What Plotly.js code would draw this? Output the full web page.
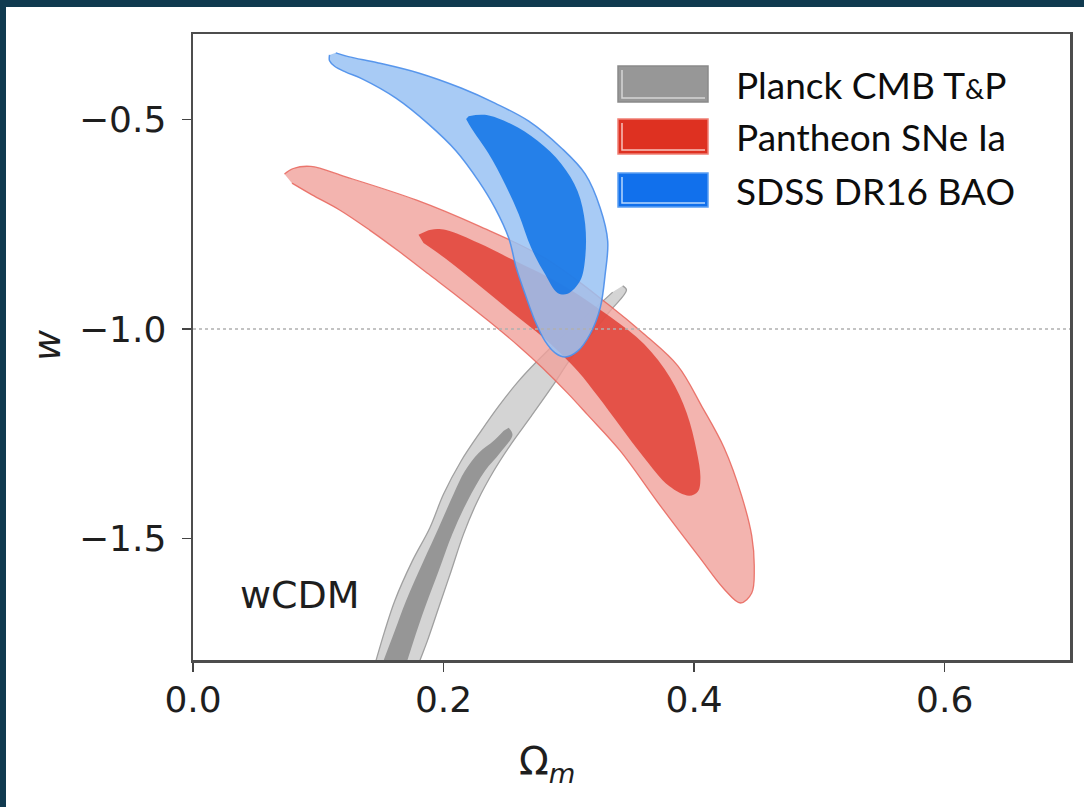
<!DOCTYPE html>
<html>
<head>
<meta charset="utf-8">
<script src="https://cdn.plot.ly/plotly-3.0.1.min.js"></script>
<style>
  html, body { margin: 0; padding: 0; }
  body { width: 1084px; height: 807px; background: #103a4f; position: relative; overflow: hidden; }
  #chart { position: absolute; left: 6px; top: 7px; width: 1078px; height: 800px; background: #fff; }
</style>
</head>
<body>
<div id="chart"></div>
<script>
// Marginalised 68% / 95% confidence regions in the (Omega_m, w) plane, wCDM model.

// Planck CMB T&P
const planck95_om = [0.343,0.346,0.333,0.318,0.302,0.287,0.270,0.254,0.240,0.227,0.216,0.206,0.196,0.187,0.181,0.169,
                     0.137,0.146,0.153,0.161,0.175,0.189,0.200,0.214,0.230,0.244,0.260,0.275,0.297,0.321,0.335];
const planck95_w  = [-0.897,-0.907,-0.957,-1.012,-1.069,-1.136,-1.208,-1.274,-1.339,-1.411,-1.489,-1.578,-1.666,-1.745,-1.792,-1.888,
                     -1.888,-1.792,-1.721,-1.649,-1.554,-1.475,-1.394,-1.315,-1.243,-1.184,-1.124,-1.076,-1.012,-0.950,-0.912];
const planck68_om = [0.252,0.255,0.245,0.233,0.219,0.207,0.196,0.185,0.176,0.171,0.161,
                     0.140,0.152,0.161,0.170,0.184,0.196,0.208,0.217,0.228,0.240,0.248];
const planck68_w  = [-1.236,-1.253,-1.296,-1.339,-1.411,-1.489,-1.578,-1.666,-1.745,-1.792,-1.888,
                     -1.888,-1.792,-1.721,-1.649,-1.554,-1.475,-1.394,-1.339,-1.296,-1.267,-1.243];

// Pantheon SNe Ia
const pantheon95_om = [0.073,0.080,0.094,0.122,0.178,0.228,0.281,0.333,0.360,0.387,0.406,0.424,0.438,0.446,0.448,0.446,
                       0.437,0.424,0.404,0.372,0.341,0.315,0.299,0.279,0.260,0.236,0.212,0.188,0.164,0.141,0.117,0.095,0.079];
const pantheon95_w  = [-0.630,-0.617,-0.612,-0.637,-0.692,-0.754,-0.831,-0.945,-1.012,-1.088,-1.184,-1.284,-1.399,-1.494,-1.570,-1.630,
                       -1.654,-1.621,-1.544,-1.418,-1.291,-1.205,-1.153,-1.093,-1.041,-0.981,-0.924,-0.869,-0.814,-0.764,-0.716,-0.680,-0.652];
const pantheon68_om = [0.180,0.190,0.202,0.228,0.254,0.294,0.333,0.360,0.381,0.394,0.402,0.405,0.403,0.396,
                       0.380,0.359,0.341,0.323,0.307,0.281,0.254,0.228,0.202,0.184];
const pantheon68_w  = [-0.775,-0.763,-0.764,-0.795,-0.833,-0.893,-0.971,-1.036,-1.117,-1.200,-1.291,-1.355,-1.388,-1.398,
                       -1.375,-1.303,-1.232,-1.160,-1.100,-1.024,-0.959,-0.895,-0.833,-0.795];

// SDSS DR16 BAO
const bao95_om = [0.114,0.124,0.148,0.180,0.214,0.241,0.268,0.294,0.313,0.325,0.331,0.329,0.325,0.317,0.307,
                  0.297,0.289,0.281,0.273,0.265,0.258,0.252,0.241,0.228,0.210,0.188,0.162,0.135,0.122,0.113,0.109,0.109];
const bao95_w  = [-0.341,-0.350,-0.365,-0.389,-0.425,-0.461,-0.504,-0.568,-0.630,-0.711,-0.790,-0.869,-0.950,-1.012,-1.053,
                  -1.067,-1.057,-1.029,-0.981,-0.916,-0.854,-0.783,-0.711,-0.647,-0.575,-0.511,-0.449,-0.403,-0.387,-0.373,-0.360,-0.346];
const bao68_om = [0.220,0.233,0.254,0.275,0.294,0.307,0.313,0.313,0.309,0.299,0.291,0.281,0.270,0.260,0.249,0.236,0.222,0.218];
const bao68_w  = [-0.492,-0.489,-0.511,-0.551,-0.606,-0.671,-0.749,-0.831,-0.885,-0.916,-0.914,-0.869,-0.807,-0.726,-0.654,-0.582,-0.520,-0.499];

// Cosmological-constant reference value
const W_LAMBDA = -1.0;

// Axes
const xTickVals = [0.0, 0.2, 0.4, 0.6];
const xTickText = ['0.0', '0.2', '0.4', '0.6'];
const yTickVals = [-1.5, -1.0, -0.5];
const yTickText = ['\u22121.5', '\u22121.0', '\u22120.5'];
const xRange = [0, 0.7];
const yRange = [-1.790, -0.296];

// Legend entries
const legendLabels = ['Planck CMB T<span style="font-size:27px">&amp;</span>P', 'Pantheon SNe Ia', 'SDSS DR16 BAO'];
const legendFill   = ['#979797', '#de3121', '#1170ec'];
const legendEdge   = ['#8a8a8a', '#f07f74', '#5b9ff2'];
const legendShine  = ['#d6d6d6', '#f8c2bc', '#b8d6fb'];
const modelLabel = 'wCDM';

// Plot area in page pixels (left, top, right, bottom)
const AREA = { l: 193, t: 34, r: 1070, b: 660 };
const px = x => (x - AREA.l) / (AREA.r - AREA.l);
const py = y => (AREA.b - y) / (AREA.b - AREA.t);

function region(xs, ys, fill, edge, edgeWidth) {
  return {
    type: 'scatter', mode: 'lines', x: xs, y: ys,
    fill: 'toself', fillcolor: fill,
    line: { color: edge, width: edgeWidth, shape: 'spline', smoothing: 1.0 },
    hoverinfo: 'skip', showlegend: false
  };
}

const data = [
  region(planck95_om, planck95_w, 'rgb(212,212,212)', 'rgb(160,160,160)', 1.3),
  region(planck68_om, planck68_w, 'rgb(150,150,150)', 'rgba(150,150,150,0)', 0),
  region(pantheon95_om, pantheon95_w, 'rgba(240,161,155,0.8)', 'rgba(232,100,90,0.85)', 1.3),
  region(pantheon68_om, pantheon68_w, 'rgba(224,58,46,0.8)', 'rgba(224,58,46,0)', 0),
  region(bao95_om, bao95_w, 'rgba(153,194,243,0.85)', 'rgba(80,145,235,0.95)', 1.5),
  region(bao68_om, bao68_w, 'rgba(14,115,230,0.85)', 'rgba(14,115,230,0)', 0)
];

const shapes = [{
  type: 'line', xref: 'paper', x0: 0, x1: 1, yref: 'y', y0: W_LAMBDA, y1: W_LAMBDA,
  line: { color: '#b0b0b0', width: 1.5, dash: 'dot' }, layer: 'above'
}];

const annotations = [];
const rows = [[66, 102], [119, 154], [173, 207]];
const swX0 = 618, swX1 = 708;
legendLabels.forEach((label, i) => {
  const [top, bot] = rows[i];
  shapes.push({
    type: 'rect', xref: 'paper', yref: 'paper',
    x0: px(swX0), x1: px(swX1), y0: py(bot), y1: py(top),
    fillcolor: legendFill[i], line: { color: legendEdge[i], width: 1.5 }, layer: 'above'
  });
  shapes.push({
    type: 'path', xref: 'paper', yref: 'paper',
    path: `M ${px(swX0 + 4)} ${py(top + 4)} L ${px(swX0 + 4)} ${py(bot - 4)} L ${px(swX1 - 3)} ${py(bot - 4)}`,
    line: { color: legendShine[i], width: 1.5 }, layer: 'above'
  });
  annotations.push({
    xref: 'paper', yref: 'paper', x: px(734), y: py((top + bot) / 2),
    xanchor: 'left', yanchor: 'middle', showarrow: false,
    text: label, font: { family: 'Lato, "Open Sans", sans-serif', size: 37, color: '#0d0d0d' }
  });
});

annotations.push({
  xref: 'paper', yref: 'paper', x: px(238), y: py(595), xanchor: 'left', yanchor: 'middle',
  showarrow: false, text: modelLabel,
  font: { family: '"DejaVu Sans", sans-serif', size: 38, color: '#1e1e1e' }
});
annotations.push({
  xref: 'paper', yref: 'paper', x: px(547), y: py(764), xanchor: 'center', yanchor: 'middle',
  showarrow: false, text: '\u03A9<sub><i>m</i></sub>',
  font: { family: '"DejaVu Sans", sans-serif', size: 39, color: '#1e1e1e' }
});
annotations.push({
  xref: 'paper', yref: 'paper', x: px(47), y: py(345), xanchor: 'center', yanchor: 'middle',
  showarrow: false, text: '<i>w</i>', textangle: -90,
  font: { family: '"DejaVu Sans", sans-serif', size: 38, color: '#1e1e1e' }
});

const axisCommon = {
  showgrid: false, zeroline: false, showline: true, mirror: true,
  linecolor: '#4d4d4d', linewidth: 2.5,
  ticks: 'outside', ticklen: 9, tickwidth: 1.5, tickcolor: '#444',
  tickfont: { family: '"DejaVu Sans", sans-serif', size: 36, color: '#1e1e1e' }
};

const layout = {
  width: 1078, height: 800,
  margin: { l: 187, r: 14, t: 27, b: 147, pad: 0 },
  paper_bgcolor: '#ffffff', plot_bgcolor: '#ffffff',
  xaxis: Object.assign({}, axisCommon, {
    range: xRange, tickmode: 'array', tickvals: xTickVals, ticktext: xTickText, ticklabelstandoff: -3
  }),
  yaxis: Object.assign({}, axisCommon, {
    range: yRange, tickmode: 'array', tickvals: yTickVals, ticktext: yTickText, ticklabelstandoff: 8
  }),
  shapes: shapes,
  annotations: annotations,
  showlegend: false
};

Plotly.newPlot('chart', data, layout, { staticPlot: true, displayModeBar: false });
</script>
</body>
</html>
